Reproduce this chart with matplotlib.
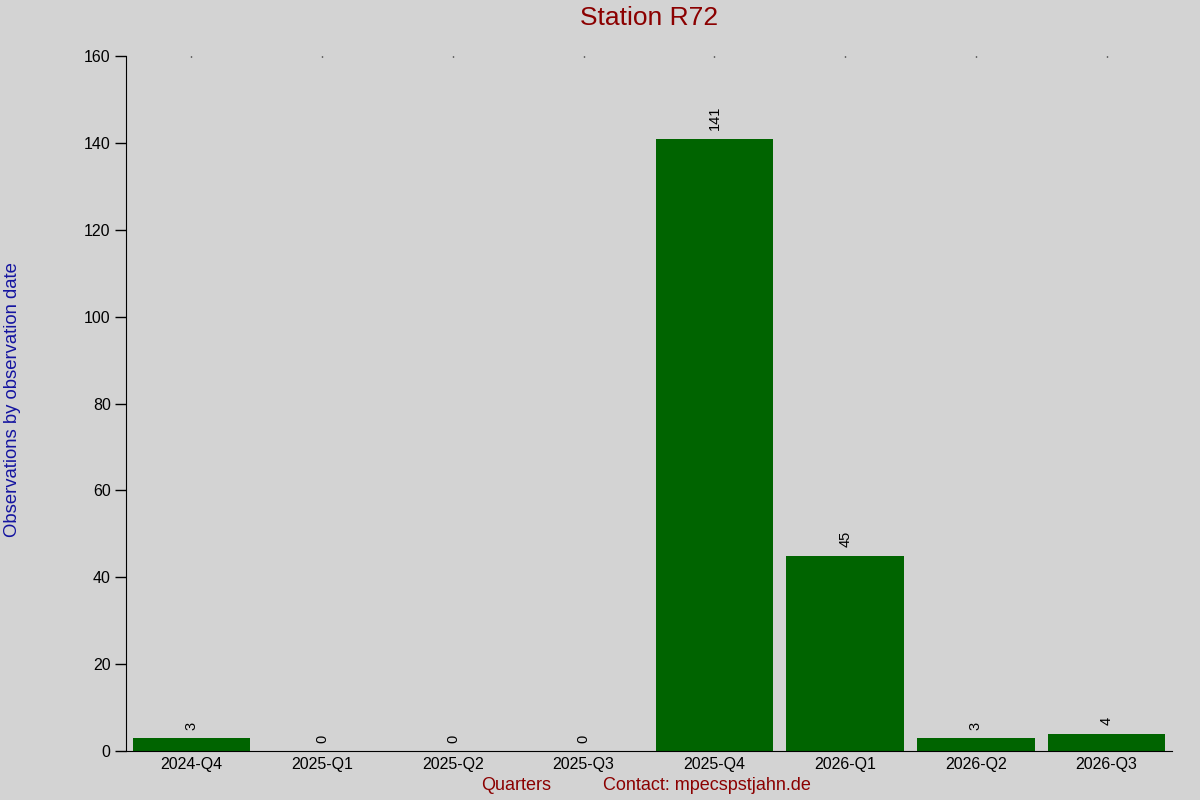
import matplotlib.pyplot as plt

plt.rcParams['font.family'] = ['Liberation Sans', 'DejaVu Sans']

quarters = ["2024-Q4", "2025-Q1", "2025-Q2", "2025-Q3",
            "2025-Q4", "2026-Q1", "2026-Q2", "2026-Q3"]
counts = [3, 0, 0, 0, 141, 45, 3, 4]

bg = "#d3d3d3"
fig = plt.figure(figsize=(12, 8), dpi=100, facecolor=bg)
ax = fig.add_axes([126 / 1200, 49 / 800, 1046 / 1200, 695 / 800])
ax.set_facecolor(bg)

x = list(range(len(quarters)))
bars = ax.bar(x, counts, width=0.9, color="#006400")

for bar, v in zip(bars, counts):
    ax.annotate(f"{v}",
                xy=(bar.get_x() + bar.get_width() / 2, bar.get_height()),
                xytext=(0, 6), textcoords="offset points",
                ha="center", va="bottom", rotation=90, fontsize=10.5)

ax.set_xlim(-0.5, len(quarters) - 0.5)
ax.set_ylim(0, 160)
ax.set_yticks(range(0, 161, 20))
ax.set_xticks(x)
ax.set_xticklabels(quarters, fontsize=11.5)
ax.tick_params(axis="y", labelsize=11.5, length=8, width=1, pad=3)
ax.tick_params(axis="x", bottom=False, top=True, direction="in",
               length=1, width=1, pad=4)

for side in ["top", "right"]:
    ax.spines[side].set_visible(False)

fig.text(649 / 1200, 0.977, "Station R72", color="#8b0000", fontsize=19,
         ha="center", va="center")
fig.text(0.0105, 0.5, "Observations by observation date", color="#1414a0",
         fontsize=13.3, rotation=90, ha="center", va="center")
fig.text(0.4008, 0.018, "Quarters", color="#8b0000", fontsize=13,
         ha="left", va="center")
fig.text(0.5025, 0.018, "Contact: mpecspstjahn.de", color="#8b0000",
         fontsize=13, ha="left", va="center")

plt.savefig("out.png", facecolor=bg)
plt.close()
